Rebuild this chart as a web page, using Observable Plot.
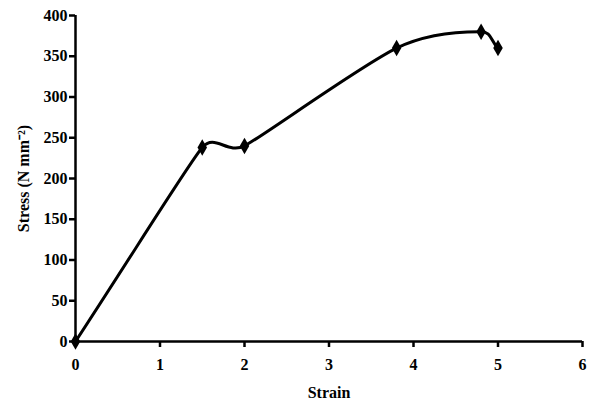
<!DOCTYPE html>
<html>
<head>
<meta charset="utf-8">
<script src="https://cdn.jsdelivr.net/npm/d3@7"></script>
<script src="https://cdn.jsdelivr.net/npm/@observablehq/plot@0.6"></script>
<style>
  html, body { margin: 0; padding: 0; background: #fff; }
  svg { display: block; }
  svg, svg text { font-family: "Liberation Serif", "Times New Roman", serif !important; font-weight: bold; }
</style>
</head>
<body>
<div id="chart"></div>
<script>
const strain = [0, 1.5, 2, 3.8, 4.8, 5];
const stress = [0, 238, 240, 360, 380, 360];
const xTicks = [0, 1, 2, 3, 4, 5, 6];
const yTicks = [0, 50, 100, 150, 200, 250, 300, 350, 400];

const data = strain.map((s, i) => ({strain: s, stress: stress[i]}));

// Smooth curve through the points (tangent length limited by the shorter neighbouring chord)
function smoothCurve(context) {
  let pts;
  const dist = (a, b) => Math.hypot(b[0] - a[0], b[1] - a[1]);
  return {
    areaStart() {}, areaEnd() {},
    lineStart() { pts = []; },
    point(x, y) { pts.push([+x, +y]); },
    lineEnd() {
      const n = pts.length;
      if (!n) return;
      context.moveTo(pts[0][0], pts[0][1]);
      if (n === 1) return;
      const tan = pts.map((p, i) => {
        const prev = pts[Math.max(0, i - 1)], next = pts[Math.min(n - 1, i + 1)];
        const dx = next[0] - prev[0], dy = next[1] - prev[1];
        const len = Math.hypot(dx, dy) || 1;
        const cPrev = i > 0 ? dist(pts[i - 1], p) : Infinity;
        const cNext = i < n - 1 ? dist(p, pts[i + 1]) : Infinity;
        const m = Math.min(cPrev, cNext) / 2.2;
        return [dx / len * m, dy / len * m];
      });
      for (let i = 0; i < n - 1; i++) {
        const a = pts[i], b = pts[i + 1];
        context.bezierCurveTo(a[0] + tan[i][0], a[1] + tan[i][1], b[0] - tan[i + 1][0], b[1] - tan[i + 1][1], b[0], b[1]);
      }
    }
  };
}

const serif = "'Liberation Serif', 'Times New Roman', serif";

const chart = Plot.plot({
  width: 589,
  height: 407,
  marginLeft: 75,
  marginRight: 7,
  marginTop: 15,
  marginBottom: 66,
  style: {fontFamily: serif, fontSize: "16px", fontWeight: "bold", color: "#000", background: "#fff"},
  x: {domain: [0, 6]},
  y: {domain: [0, 400]},
  marks: [
    Plot.axisX({ticks: xTicks, tickSize: 6, tickPadding: 11, tickFormat: d => String(d), fontFamily: serif, fontSize: 16, fontWeight: "bold", label: "Strain", labelAnchor: "center", labelArrow: "none", labelOffset: 56, strokeWidth: 2.5}),
    Plot.axisY({ticks: yTicks, tickSize: 6, tickPadding: 2, tickFormat: d => String(d), fontFamily: serif, fontSize: 16, fontWeight: "bold", label: "Stress (N mm⁻²)", labelAnchor: "center", labelArrow: "none", labelOffset: 58, strokeWidth: 2.5}),
    Plot.ruleX([0], {strokeWidth: 2.5}),
    Plot.ruleY([0], {strokeWidth: 2.5}),
    Plot.line(data, {x: "strain", y: "stress", curve: smoothCurve, stroke: "#000", strokeWidth: 3}),
    Plot.dot(data, {x: "strain", y: "stress", symbol: "diamond", r: 5, fill: "#000", stroke: "none"})
  ]
});
document.getElementById("chart").appendChild(chart);
</script>
</body>
</html>
